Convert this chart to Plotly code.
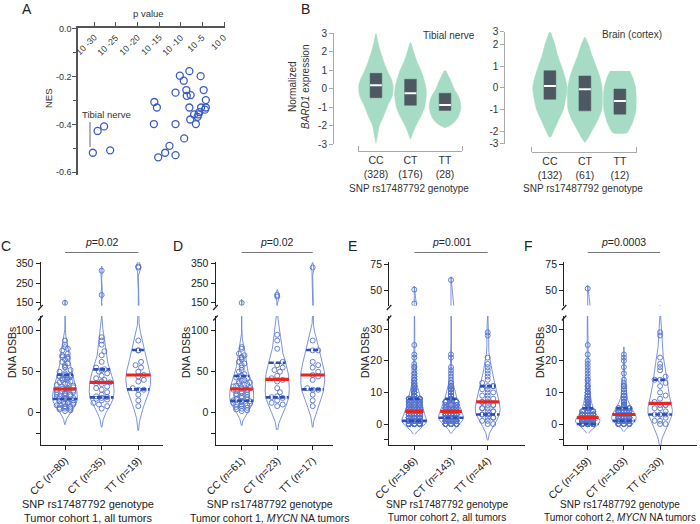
import numpy as np
import plotly.graph_objects as go

W, H = 700, 524
FONT = "Arial, Liberation Sans, sans-serif"

# ================= DATA =================
# ---- Panel A: NES vs p value (log10) ----
A_log10_p = [-30.3, -29.2, -27.7, -26.3, -16.1, -15.5, -16.2, -15.2, -13.6, -12.6,
             -11.2, -11.2, -11.2, -10.2, -9.3, -9.2, -8.7, -8.6, -8.0, -7.7,
             -8.0, -7.8, -6.9, -6.5, -6.1, -5.7, -5.4, -5.3, -4.7, -4.2,
             -4.2, -4.4, -5.9]
A_nes = [-0.518, -0.427, -0.408, -0.508, -0.306, -0.329, -0.398, -0.537, -0.518, -0.489,
         -0.267, -0.398, -0.528, -0.196, -0.217, -0.458, -0.256, -0.280, -0.177, -0.277,
         -0.329, -0.379, -0.358, -0.398, -0.368, -0.348, -0.198, -0.329, -0.256, -0.298,
         -0.329, -0.338, -0.358]
A_xticks = [-30, -25, -20, -15, -10, -5, 0]
A_xticklabels = ["10 -30", "10 -25", "10 -20", "10 -15", "10 -10", "10 -5", "10 0"]
A_yticks = [0.0, -0.2, -0.4, -0.6]
A_yticklabels = ["0.0", "-0.2", "-0.4", "-0.6"]

# ---- Panel B: BARD1 expression by genotype ----
genotypes = ["CC", "CT", "TT"]
B1_n = [328, 176, 28]
B2_n = [132, 61, 12]
B1_q1 = [-0.49, -0.90, -1.18]
B1_med = [0.18, -0.25, -0.89]
B1_q3 = [0.83, 0.51, -0.25]
B2_q1 = [-0.52, -1.05, -1.20]
B2_med = [0.09, -0.06, -0.60]
B2_q3 = [0.79, 0.55, -0.05]
# violin profiles (expression level, relative half width)
B1_CC_y = [3.0, 2.5, 2.0, 1.5, 1.0, 0.5, 0.1, -0.4, -1.0, -1.5, -2.0, -2.5, -2.97]
B1_CC_w = [0.0, 0.06, 0.13, 0.22, 0.32, 0.45, 0.5, 0.47, 0.32, 0.22, 0.1, 0.05, 0.0]
B1_CT_y = [2.5, 2.0, 1.5, 1.0, 0.5, 0.0, -0.3, -1.0, -1.5, -2.0, -2.4, -2.75]
B1_CT_w = [0.0, 0.09, 0.18, 0.3, 0.39, 0.45, 0.46, 0.41, 0.3, 0.16, 0.07, 0.0]
B1_TT_y = [0.98, 0.5, 0.0, -0.5, -1.0, -1.5, -1.8, -2.0, -2.12]
B1_TT_w = [0.02, 0.15, 0.26, 0.41, 0.46, 0.39, 0.28, 0.14, 0.0]
B2_CC_y = [2.55, 2.0, 1.5, 1.0, 0.5, 0.0, -0.5, -1.0, -1.5, -2.0, -2.25]
B2_CC_w = [0.02, 0.14, 0.22, 0.33, 0.43, 0.49, 0.45, 0.38, 0.24, 0.1, 0.02]
B2_CT_y = [2.33, 2.0, 1.5, 1.0, 0.5, 0.0, -0.5, -1.0, -1.5, -2.0, -2.3, -2.51]
B2_CT_w = [0.01, 0.1, 0.2, 0.32, 0.43, 0.49, 0.5, 0.48, 0.36, 0.19, 0.09, 0.0]
B2_TT_y = [0.78, 0.5, 0.0, -0.5, -1.0, -1.5, -1.8, -2.05]
B2_TT_w = [0.28, 0.36, 0.45, 0.47, 0.46, 0.38, 0.3, 0.2]

# ---- Panels C-F: DNA DSBs per tumor ----
C_CC = [2, 3, 4, 5, 5, 6, 7, 7, 8, 9, 10, 10, 11, 12, 12, 13, 14, 14, 15, 16,
        17, 17, 18, 18, 19, 20, 20, 21, 22, 22, 23, 24, 25, 25, 26, 27, 28, 28, 29, 29,
        30, 31, 32, 33, 34, 35, 36, 37, 38, 40, 40, 41, 42, 43, 44, 44, 45, 45, 46, 46,
        48, 50, 52, 55, 56, 58, 60, 62, 65, 66, 68, 68, 70, 72, 76, 78, 80, 83, 88, 147]
C_CT = [5, 8, 10, 12, 15, 16, 17, 18, 19, 20, 22, 25, 28, 30, 32, 35, 36, 37,
        38, 40, 42, 45, 48, 50, 52, 53, 55, 62, 70, 75, 83, 88, 92, 188, 314]
C_TT = [8, 15, 22, 28, 28, 30, 38, 40, 44, 46, 50, 55, 58, 62, 76, 76, 88, 330, 335]
D_CC = [2, 3, 4, 5, 6, 7, 8, 9, 10, 10, 11, 12, 13, 14, 14,
        15, 16, 17, 18, 19, 20, 21, 22, 23, 24, 25, 26, 27, 28, 28, 29,
        30, 31, 32, 33, 34, 35, 36, 37, 38, 39, 40, 42, 43, 44, 45,
        47, 50, 52, 55, 58, 60, 62, 65, 67, 68, 70, 72, 78, 80, 147]
D_CT = [8, 10, 12, 15, 18, 19, 20, 25, 30, 38, 40, 42, 45, 50, 52, 55, 58, 62,
        78, 88, 95, 180, 188]
D_TT = [8, 15, 22, 28, 28, 30, 40, 44, 46, 50, 55, 58, 62, 76, 76, 88, 330]

E_CC_values = [0, 1, 2, 3, 4, 5, 6, 7, 8, 9, 10, 11, 12, 13, 14, 15, 16, 17, 18, 19, 21, 22, 25, 38, 51]
E_CC_counts = [40, 18, 22, 12, 14, 12, 12, 9, 14, 7, 8, 5, 4, 3, 3, 2, 2, 1, 2, 1, 1, 1, 1, 1, 1]
E_CT_values = [0, 1, 2, 3, 4, 5, 6, 7, 8, 9, 10, 11, 12, 13, 14, 15, 16, 17, 18, 21, 22, 60]
E_CT_counts = [16, 14, 20, 14, 14, 10, 10, 8, 9, 5, 5, 4, 4, 2, 1, 1, 1, 1, 1, 1, 1, 1]
E_TT_values = [0, 1, 2, 3, 4, 5, 6, 7, 8, 9, 10, 11, 12, 13, 14, 15, 16, 17, 18, 19, 21, 28, 29]
E_TT_counts = [2, 2, 3, 4, 3, 3, 3, 3, 2, 2, 2, 2, 3, 1, 1, 1, 1, 1, 1, 1, 1, 1, 1]
F_CC_values = [0, 1, 2, 3, 4, 5, 6, 7, 8, 9, 10, 11, 12, 13, 14, 15, 16, 17, 18, 19, 20, 22, 25, 52]
F_CC_counts = [41, 25, 18, 12, 10, 9, 8, 6, 5, 4, 4, 2, 3, 1, 2, 1, 1, 1, 1, 1, 1, 1, 1, 1]
F_CT_values = [0, 1, 2, 3, 4, 5, 6, 7, 8, 9, 10, 11, 12, 13, 14, 16, 18, 20, 21, 22]
F_CT_counts = [12, 14, 14, 14, 10, 8, 6, 5, 3, 3, 2, 2, 3, 1, 1, 1, 1, 1, 1, 1]
F_TT = [0, 0, 1, 1, 2, 3, 3, 3, 3, 4, 5, 5, 6, 6, 6, 7, 8, 9, 10, 12, 13, 14, 14, 15,
        17, 18, 19, 21, 28, 29]

C_q1 = [16.7, 18.7, 28.5]; C_med = [28.9, 37.0, 46.0]; C_q3 = [46.3, 52.8, 76.4]
D_q1 = [14.6, 18.7, 28.5]; D_med = [28.9, 40.7, 46.0]; D_q3 = [44.7, 61.0, 76.4]
E_q1 = [1, 2, 3]; E_med = [4, 4, 7]; E_q3 = [8, 8, 12]
F_q1 = [0, 1, 3]; F_med = [2, 3, 6.5]; F_q3 = [5, 5, 14]

C_n = [80, 35, 19]; D_n = [61, 23, 17]; E_n = [196, 143, 44]; F_n = [159, 103, 30]
p_labels = ["<i>p</i>=0.02", "<i>p</i>=0.02", "<i>p</i>=0.001", "<i>p</i>=0.0003"]
cohort_labels = ["Tumor cohort 1, all tumors", "Tumor cohort 1, <i>MYCN</i> NA tumors",
                 "Tumor cohort 2, all tumors", "Tumor cohort 2, <i>MYCN</i> NA tumors"]

# ================= HELPERS =================
def PX(x):
    return x / W

def PY(y):
    return 1 - y / H

BLUE_PT = "#5573cc"
BLUE_LINE = "#6d88d8"
BLUE_Q = "#2c4db5"
RED = "#e8261e"
MINT = "#a6dcc5"
BOX = "#4e5862"

# approximate Arial advance widths (em) for label length estimates
CHAR_W = {"0": .556, "1": .556, "2": .556, "3": .556, "5": .556, " ": .278, "-": .333}

fig = go.Figure()
annotations = []
shapes = []
layout = dict(
    width=W, height=H, margin=dict(l=0, r=0, t=0, b=0, autoexpand=False),
    paper_bgcolor="white", plot_bgcolor="white", showlegend=False,
    font=dict(family=FONT, size=10, color="#222"), hovermode=False,
)

def ann(text, x, y, size=10, color="#222", angle=0, xanchor="center", yanchor="middle"):
    annotations.append(dict(text=text, x=PX(x), y=PY(y), xref="paper", yref="paper",
                            showarrow=False, font=dict(size=size, color=color, family=FONT),
                            textangle=angle, xanchor=xanchor, yanchor=yanchor))

# ================= PANEL A =================
layout["xaxis"] = dict(domain=[PX(77.7), PX(225.3)], range=[-33.8, 0.3], side="top", anchor="y",
                       tickvals=A_xticks, showticklabels=False, ticks="outside",
                       ticklen=4, tickcolor="#555", showline=True,
                       linecolor="#555", linewidth=1.5, showgrid=False, zeroline=False)
layout["yaxis"] = dict(domain=[PY(175), PY(27.6)], range=[-0.611, 0.005], anchor="x",
                       tickvals=A_yticks, showticklabels=False, ticks="outside", ticklen=4,
                       tickcolor="#555", showline=True, linecolor="#555", linewidth=1.5,
                       showgrid=False, zeroline=False,
                       minor=dict(dtick=0.1, ticks="outside", ticklen=3, tickcolor="#555"))
for tv, tt in zip(A_yticks, A_yticklabels):
    annotations.append(dict(text=tt, x=PX(73.5), xref="paper", y=tv, yref="y", showarrow=False,
                            xanchor="right", yanchor="middle",
                            font=dict(size=9, color="#333", family=FONT)))
A_FS = 8.8
for tv, tt in zip(A_xticks, A_xticklabels):
    L = sum(CHAR_W.get(c, .556) for c in tt) * A_FS
    annotations.append(dict(text=tt, x=tv, xref="x", y=PY(36 + 0.354 * L), yref="paper",
                            showarrow=False, textangle=-45, xanchor="center", yanchor="middle",
                            xshift=1 - 0.354 * L, font=dict(size=A_FS, color="#333", family=FONT)))
fig.add_trace(go.Scatter(x=A_log10_p, y=A_nes, mode="markers", xaxis="x", yaxis="y",
                         marker=dict(symbol="circle-open", size=7, color="#3b5cc4",
                                     line=dict(width=1.3, color="#3b5cc4"))))
ann("A", 27, 9, size=14)
ann("p value", 148, 14, size=9.5, color="#333")
ann("NES", 48, 98, size=9.5, color="#333", angle=-90)
ann("Tibial nerve", 106, 115, size=9.5, color="#333")
shapes.append(dict(type="line", xref="paper", yref="paper", x0=PX(90), x1=PX(90),
                   y0=PY(122), y1=PY(147), line=dict(color="#666", width=1)))

# ================= PANEL B =================
def b_panel(xi, xdom, xrng, xpos, ydom, yrng, ypos, ytickvals, yticktext, ns, profiles,
            q1, med, q3, title, title_xy, tissue, tissue_xy, ytitle):
    layout[f"xaxis{xi}"] = dict(domain=[PX(xdom[0]), PX(xdom[1])], range=xrng, anchor="free",
                                position=PY(xpos), tickvals=[0, 1, 2],
                                ticktext=[f"{g}<br>({n})" for g, n in zip(genotypes, ns)],
                                ticks="", showline=True, linecolor="#aaa", linewidth=1,
                                showgrid=False, zeroline=False,
                                tickfont=dict(size=10.5, color="#333"),
                                minor=dict(tickvals=[xrng[0] + 0.005, xrng[1] - 0.005],
                                           ticks="inside", ticklen=5, tickcolor="#aaa"))
    layout[f"yaxis{xi}"] = dict(domain=[PY(ydom[0]), PY(ydom[1])], range=yrng, anchor="free",
                                position=PX(ypos), tickvals=ytickvals, ticktext=yticktext,
                                ticks="outside", ticklen=4, tickcolor="#aaa", showline=True,
                                linecolor="#aaa", linewidth=1, showgrid=False, zeroline=False,
                                tickfont=dict(size=10, color="#333"))
    for i, (ys, ws) in enumerate(profiles):
        ys = np.asarray(ys, float); ws = np.asarray(ws, float)
        xs = np.concatenate([i - ws, (i + ws)[::-1]])
        yy = np.concatenate([ys, ys[::-1]])
        fig.add_trace(go.Scatter(x=xs, y=yy, mode="lines", fill="toself", fillcolor=MINT,
                                 line=dict(color=MINT, width=0.5, shape="spline", smoothing=0.8),
                                 xaxis=f"x{xi}", yaxis=f"y{xi}"))
        bw = 0.17
        fig.add_trace(go.Scatter(x=[i - bw, i + bw, i + bw, i - bw, i - bw],
                                 y=[q1[i], q1[i], q3[i], q3[i], q1[i]], mode="lines",
                                 fill="toself", fillcolor=BOX, line=dict(color=BOX, width=0.5),
                                 xaxis=f"x{xi}", yaxis=f"y{xi}"))
        fig.add_trace(go.Scatter(x=[i - bw, i + bw], y=[med[i], med[i]], mode="lines",
                                 line=dict(color="white", width=2),
                                 xaxis=f"x{xi}", yaxis=f"y{xi}"))
    ann(title, title_xy[0], title_xy[1], size=10, color="#333")
    ann(tissue, tissue_xy[0], tissue_xy[1], size=10, color="#333")
    if ytitle:
        ann(ytitle, 299, 87, size=10, color="#333", angle=-90)

b_panel(2, (358, 462.3), [-0.52, 2.5], 150.5, (144, 33.3), [-3, 3], 333,
        [-3, -2, -1, 0, 1, 2, 3], ["-3", "-2", "-1", "0", "1", "2", "3"], B1_n,
        [(B1_CC_y, B1_CC_w), (B1_CT_y, B1_CT_w), (B1_TT_y, B1_TT_w)],
        B1_q1, B1_med, B1_q3, "SNP rs17487792 genotype", (409, 188),
        "Tibial nerve", (449, 35), "Normalized<br><i>BARD1</i> expression")
b_panel(3, (531.7, 636.7), [-0.52, 2.48], 151.7, (144, 31.7), [-2.57, 2.58], 504.3,
        [-2.565, -2, -1, 0, 1, 2, 2.575], ["-3", "-2", "-1", "0", "1", "2", "3"], B2_n,
        [(B2_CC_y, B2_CC_w), (B2_CT_y, B2_CT_w), (B2_TT_y, B2_TT_w)],
        B2_q1, B2_med, B2_q3, "SNP rs17487792 genotype", (583, 188),
        "Brain (cortex)", (632, 34), None)
ann("B", 305, 9, size=14)

# ================= PANELS C-F =================
def expand(values, counts):
    return list(np.repeat(np.asarray(values, float), counts))

groups = {
    "C": [C_CC, C_CT, C_TT],
    "D": [D_CC, D_CT, D_TT],
    "E": [expand(E_CC_values, E_CC_counts), expand(E_CT_values, E_CT_counts),
          expand(E_TT_values, E_TT_counts)],
    "F": [expand(F_CC_values, F_CC_counts), expand(F_CT_values, F_CT_counts), F_TT],
}
stats = {"C": (C_q1, C_med, C_q3, C_n), "D": (D_q1, D_med, D_q3, D_n),
         "E": (E_q1, E_med, E_q3, E_n), "F": (F_q1, F_med, F_q3, F_n)}

# layout geometry (pixels): axis left, axis right, first category, px per category
geom = {"C": (40.7, 162.7, 65.0, 36.65), "D": (215.7, 333.3, 241.7, 35.5),
        "E": (389.3, 525.0, 414.3, 36.7), "F": (564.3, 697.0, 587.7, 36.2)}
LOW_TOP, LOW_BOT, UP_TOP, UP_BOT = 316.0, 445.0, 262.0, 305.5
# y scale: (lower zero px, lower px/unit, upper ref value, upper ref px, upper px/unit)
yscale = {"C": (412.7, 0.82, 150, 302.3, 0.193), "D": (412.7, 0.82, 150, 302.3, 0.193),
          "E": (424.0, 3.16, 50, 290.7, 1.068), "F": (424.0, 3.16, 50, 290.7, 1.068)}
yticks_low = {"C": [-25, 0, 50, 100], "D": [-25, 0, 50, 100],
              "E": [-5, 0, 10, 20, 30], "F": [-5, 0, 10, 20, 30]}
yticks_up = {"C": [150, 250, 350], "D": [150, 250, 350], "E": [50, 75], "F": [50, 75]}
letters_x = {"C": 6, "D": 178, "E": 352, "F": 528}
title_x = {"C": 88, "D": 270, "E": 447, "F": 619.5}
title_fs = {"C": 11, "D": 10.5, "E": 10.2, "F": 10}
ytitle_x = {"C": 12, "D": 186, "E": 365, "F": 540}


def silverman(v):
    v = np.asarray(v, float)
    sd = v.std(ddof=1)
    iqr = np.subtract(*np.percentile(v, [75, 25]))
    s = min(sd, iqr / 1.34) if iqr > 0 else sd
    return 0.9 * s * len(v) ** (-0.2)


def swarm(vals, ypx, hwpx, d):
    order = np.argsort(vals, kind="stable")
    xs = np.zeros(len(vals))
    placed = []
    step = d * 0.55
    for idx in order:
        y = ypx[idx]
        lim = hwpx[idx] * 0.85
        n = int(lim // step)
        cands = [0.0]
        for k in range(1, n + 1):
            cands += [k * step, -k * step]
        near = [(a, b) for (a, b) in placed if abs(b - y) < d]
        best, best_s = 0.0, None
        for cx in cands:
            s = sum(1 for (a, b) in near if (a - cx) ** 2 + (b - y) ** 2 < (d * 0.95) ** 2)
            if best_s is None or s < best_s:
                best, best_s = cx, s
            if s == 0:
                break
        xs[idx] = best
        placed.append((best, y))
    return xs


for k, key in enumerate(["C", "D", "E", "F"]):
    xi, yl, yu = 4 + k, 4 + k, 8 + k
    left, right, c0, u = geom[key]
    z0, ppl, uref, urefpx, ppu = yscale[key]
    q1, med, q3, ns = stats[key]
    low_rng = [(z0 - LOW_BOT) / ppl, (z0 - LOW_TOP) / ppl]
    up_rng = [uref - (UP_BOT - urefpx) / ppu, uref + (urefpx - UP_TOP) / ppu]

    def ypix(v, z0=z0, ppl=ppl, uref=uref, urefpx=urefpx, ppu=ppu, top=low_rng[1]):
        v = np.asarray(v, float)
        return np.where(v <= top, z0 - v * ppl, urefpx - (v - uref) * ppu)

    layout[f"xaxis{xi}"] = dict(domain=[PX(left), PX(right)], range=[(left - c0) / u, (right - c0) / u],
                                anchor=f"y{yl}", tickvals=[0, 1, 2],
                                ticktext=[f"{g} (<i>n</i>={n})" for g, n in zip(genotypes, ns)],
                                tickangle=-45, ticks="outside", ticklen=4, tickcolor="#222",
                                showline=True, linecolor="#222", linewidth=1.3, showgrid=False,
                                zeroline=False, tickfont=dict(size=10.5, color="#222"))
    layout[f"yaxis{yl}"] = dict(domain=[PY(LOW_BOT), PY(LOW_TOP)], range=low_rng, anchor=f"x{xi}",
                                tickvals=yticks_low[key],
                                ticktext=["" if t < 0 else str(t) for t in yticks_low[key]],
                                ticks="outside", ticklen=4, tickcolor="#222", showline=True,
                                linecolor="#222", linewidth=1.3, showgrid=False, zeroline=False,
                                tickfont=dict(size=10.5, color="#222"))
    layout[f"yaxis{yu}"] = dict(domain=[PY(UP_BOT), PY(UP_TOP)], range=up_rng, anchor=f"x{xi}",
                                tickvals=yticks_up[key], ticks="outside", ticklen=4,
                                tickcolor="#222", showline=True, linecolor="#222", linewidth=1.3,
                                showgrid=False, zeroline=False, tickfont=dict(size=10.5, color="#222"))
    # break marks
    for yb in (UP_BOT + 2.5, LOW_TOP + 2.5):
        shapes.append(dict(type="line", xref="paper", yref="paper", x0=PX(left - 2.5), x1=PX(left + 2),
                           y0=PY(yb + 2), y1=PY(yb - 3), line=dict(color="#222", width=1.2)))

    for i, vals in enumerate(groups[key]):
        v = np.asarray(vals, float)
        bw = silverman(v)
        grid = np.linspace(v.min() - 2 * bw, v.max() + 2 * bw, 2000)
        dens = np.exp(-0.5 * ((grid[:, None] - v[None, :]) / bw) ** 2).sum(1)
        hw = dens / dens.max() * 0.34
        xs = np.concatenate([i - hw, (i + hw)[::-1]])
        ys = np.concatenate([grid, grid[::-1]])
        hw_pts = np.interp(v, grid, hw) * u
        offs = swarm(v, ypix(v), hw_pts, 5.0)
        for ya in (f"y{yl}", f"y{yu}"):
            fig.add_trace(go.Scatter(x=xs, y=ys, mode="lines", line=dict(color=BLUE_LINE, width=0.9),
                                     xaxis=f"x{xi}", yaxis=ya))
            fig.add_trace(go.Scatter(x=i + offs / u, y=v, mode="markers", xaxis=f"x{xi}", yaxis=ya,
                                     marker=dict(symbol="circle-open", size=5, color=BLUE_PT,
                                                 line=dict(width=0.9, color=BLUE_PT))))
        for qv in (q1[i], q3[i]):
            h = np.interp(qv, grid, hw)
            fig.add_trace(go.Scatter(x=[i - h, i + h], y=[qv, qv], mode="lines",
                                     line=dict(color=BLUE_Q, width=2.6, dash="5px,2px"),
                                     xaxis=f"x{xi}", yaxis=f"y{yl}"))
        h = np.interp(med[i], grid, hw)
        fig.add_trace(go.Scatter(x=[i - h, i + h], y=[med[i], med[i]], mode="lines",
                                 line=dict(color=RED, width=3.2), xaxis=f"x{xi}", yaxis=f"y{yl}"))

    # p value bracket
    shapes.append(dict(type="line", xref=f"x{xi}", yref="paper", x0=0, x1=2, y0=PY(252.5), y1=PY(252.5),
                       line=dict(color="#777", width=1.2)))
    annotations.append(dict(text=p_labels[k], x=1, y=PY(242), xref=f"x{xi}", yref="paper",
                            showarrow=False, font=dict(size=10.5, color="#222", family=FONT),
                            xanchor="center", yanchor="middle"))
    ann(key, letters_x[key], 246, size=14)
    ann("DNA DSBs", ytitle_x[key], 353, size=10.5, angle=-90)
    ann("SNP rs17487792 genotype<br>" + cohort_labels[k], title_x[key], 510.5, size=title_fs[key])

layout["annotations"] = annotations
layout["shapes"] = shapes
fig.update_layout(**layout)
fig.write_html("out.html", config={"displayModeBar": False},
               post_script="document.body.style.margin='0px';document.body.style.overflow='hidden';")
